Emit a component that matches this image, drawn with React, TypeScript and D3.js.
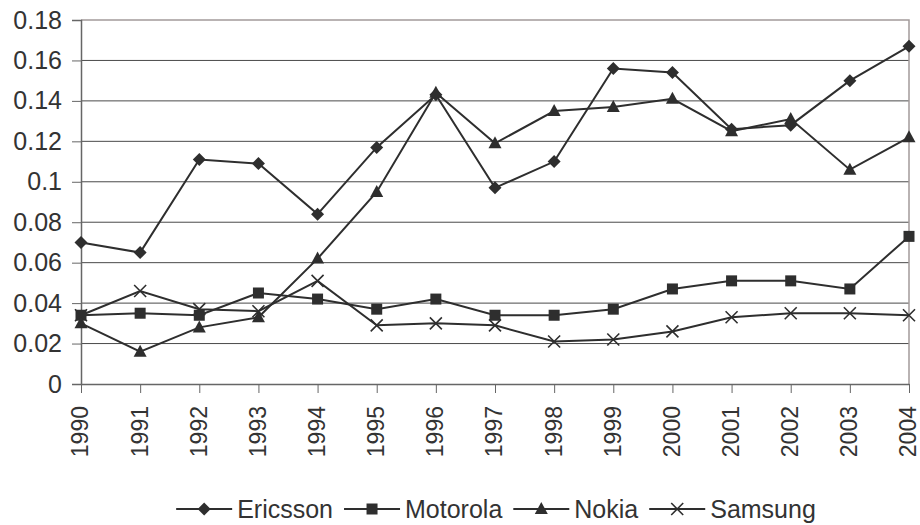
import React, { useEffect, useRef } from "react";
import * as d3 from "d3";

const years = [
  "1990", "1991", "1992", "1993", "1994", "1995", "1996", "1997",
  "1998", "1999", "2000", "2001", "2002", "2003", "2004",
];
const ericsson = [0.070, 0.065, 0.111, 0.109, 0.084, 0.117, 0.143, 0.097, 0.110, 0.156, 0.154, 0.126, 0.128, 0.150, 0.167];
const motorola = [0.034, 0.035, 0.034, 0.045, 0.042, 0.037, 0.042, 0.034, 0.034, 0.037, 0.047, 0.051, 0.051, 0.047, 0.073];
const nokia = [0.030, 0.016, 0.028, 0.033, 0.062, 0.095, 0.144, 0.119, 0.135, 0.137, 0.141, 0.125, 0.131, 0.106, 0.122];
const samsung = [0.034, 0.046, 0.037, 0.036, 0.051, 0.029, 0.030, 0.029, 0.021, 0.022, 0.026, 0.033, 0.035, 0.035, 0.034];
const yTicks = [0, 0.02, 0.04, 0.06, 0.08, 0.1, 0.12, 0.14, 0.16, 0.18];

const seriesList = [
  { name: "Ericsson", values: ericsson, marker: "diamond" },
  { name: "Motorola", values: motorola, marker: "square" },
  { name: "Nokia", values: nokia, marker: "triangle" },
  { name: "Samsung", values: samsung, marker: "cross" },
];

const ink = "#2e2e2e";

function drawMarker(g: d3.Selection<SVGGElement, unknown, null, undefined>, kind: string, cx: number, cy: number) {
  if (kind === "diamond") {
    g.append("path").attr("d", `M${cx},${cy - 6.5}L${cx + 6.5},${cy}L${cx},${cy + 6.5}L${cx - 6.5},${cy}Z`).attr("fill", ink);
  } else if (kind === "square") {
    g.append("rect").attr("x", cx - 5.5).attr("y", cy - 5.5).attr("width", 11).attr("height", 11).attr("fill", ink);
  } else if (kind === "triangle") {
    g.append("path").attr("d", `M${cx},${cy - 7}L${cx + 6.5},${cy + 5}L${cx - 6.5},${cy + 5}Z`).attr("fill", ink);
  } else {
    g.append("path")
      .attr("d", `M${cx - 6},${cy - 6}L${cx + 6},${cy + 6}M${cx - 6},${cy + 6}L${cx + 6},${cy - 6}`)
      .attr("stroke", ink)
      .attr("stroke-width", 1.6)
      .attr("fill", "none");
  }
}

export default function App() {
  const ref = useRef<SVGSVGElement>(null);

  useEffect(() => {
    const width = 920;
    const height = 525;
    const left = 81;
    const right = 909;
    const top = 20;
    const bottom = 384;

    const svg = d3.select(ref.current);
    svg.selectAll("*").remove();
    svg.attr("width", width).attr("height", height);
    const font = "'Liberation Sans', Arial, sans-serif";

    const x = d3.scalePoint<string>().domain(years).range([left, right]);
    const y = d3.scaleLinear().domain([0, 0.18]).range([bottom, top]);

    // grid lines
    svg.append("g")
      .selectAll("line")
      .data(yTicks.slice(1, -1))
      .join("line")
      .attr("x1", left)
      .attr("x2", right)
      .attr("y1", (d) => y(d))
      .attr("y2", (d) => y(d))
      .attr("stroke", "#4a4a4a")
      .attr("stroke-width", 1);

    // plot border (top/right)
    svg.append("path")
      .attr("d", `M${left},${top}H${right}V${bottom}`)
      .attr("fill", "none")
      .attr("stroke", "#a39b9b")
      .attr("stroke-width", 1.5);

    // y axis
    const ya = svg.append("g").attr("transform", `translate(${left},0)`)
      .call(d3.axisLeft(y).tickValues(yTicks).tickSize(9).tickFormat((d) => String(+(+d).toFixed(2))));
    ya.select(".domain").attr("stroke", "#666").attr("stroke-width", 1.5);
    ya.selectAll(".tick line").attr("stroke", "#666");
    ya.selectAll("text").attr("font-family", font).attr("font-size", 25).attr("fill", "#333").attr("x", -19);

    // x axis
    const xa = svg.append("g").attr("transform", `translate(0,${bottom})`)
      .call(d3.axisBottom(x).tickSize(9).tickSizeOuter(0));
    xa.select(".domain").attr("stroke", "#666").attr("stroke-width", 1.5);
    xa.selectAll(".tick line").attr("stroke", "#666");
    xa.selectAll("text")
      .attr("font-family", font)
      .attr("font-size", 23)
      .attr("fill", "#333")
      .attr("transform", "rotate(-90)")
      .attr("text-anchor", "end")
      .attr("x", -22)
      .attr("y", 0)
      .attr("dy", "0.3em");

    const line = d3.line<number>()
      .x((_, i) => x(years[i]) as number)
      .y((d) => y(d));

    seriesList.forEach((s) => {
      svg.append("path")
        .attr("d", line(s.values))
        .attr("fill", "none")
        .attr("stroke", ink)
        .attr("stroke-width", 2);
    });
    seriesList.forEach((s) => {
      const g = svg.append("g");
      s.values.forEach((v, i) => drawMarker(g, s.marker, x(years[i]) as number, y(v)));
    });

    // legend
    const lg = svg.append("g");
    const lineLen = 56;
    const ly = 509;
    let cursor = 0;
    seriesList.forEach((s) => {
      const g = lg.append("g").attr("transform", `translate(${cursor},0)`);
      g.append("line").attr("x1", 0).attr("x2", lineLen).attr("y1", ly).attr("y2", ly).attr("stroke", ink).attr("stroke-width", 2);
      drawMarker(g, s.marker, lineLen / 2, ly);
      const t = g.append("text")
        .attr("x", lineLen + 5)
        .attr("y", ly + 9)
        .attr("font-family", font)
        .attr("font-size", 25)
        .attr("fill", "#333")
        .text(s.name);
      const tw = (t.node() as SVGTextElement).getComputedTextLength();
      cursor += lineLen + 5 + tw + 11;
    });
    const total = cursor - 11;
    lg.attr("transform", `translate(${(168 + 824) / 2 - total / 2},0)`);
  }, []);

  return <svg ref={ref} style={{ position: "fixed", left: 0, top: 0, background: "#fff" }} />;
}
